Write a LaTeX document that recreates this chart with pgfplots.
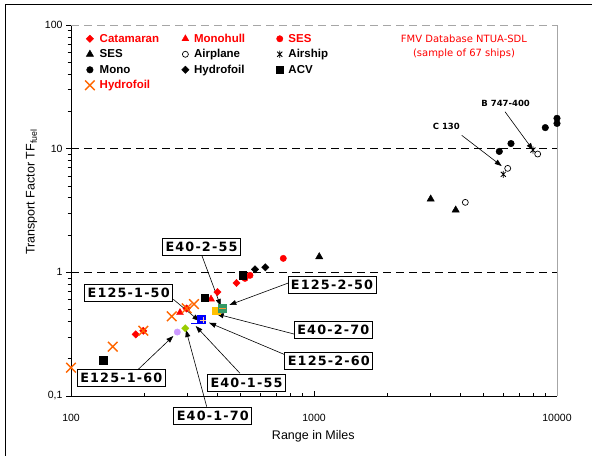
\documentclass[border=0pt]{standalone}
\usepackage{pgfplots}
\pgfplotsset{compat=1.18}
\usepackage{fontspec}
\setmainfont{Liberation Sans}
\newfontfamily\verd{DejaVu Sans}
\newfontfamily\boxfont[LetterSpace=9]{DejaVu Sans}
\usetikzlibrary{arrows.meta}

\definecolor{xlred}{RGB}{255,0,0}
\definecolor{xlorange}{RGB}{255,102,0}
\definecolor{xlblue}{RGB}{0,0,255}
\definecolor{xlyellow}{RGB}{255,192,0}
\definecolor{xlgreen}{RGB}{51,153,102}
\definecolor{xlviolet}{RGB}{204,153,255}
\definecolor{xllime}{RGB}{153,204,0}
\definecolor{xlpeach}{RGB}{255,204,153}
\definecolor{xlamber}{RGB}{255,153,51}

% star marker: a cross with a vertical bar
\pgfdeclareplotmark{xbar}{%
  \pgfpathmoveto{\pgfqpointpolar{45}{\pgfplotmarksize}}\pgfpathlineto{\pgfqpointpolar{225}{\pgfplotmarksize}}%
  \pgfpathmoveto{\pgfqpointpolar{135}{\pgfplotmarksize}}\pgfpathlineto{\pgfqpointpolar{315}{\pgfplotmarksize}}%
  \pgfpathmoveto{\pgfqpoint{0pt}{\pgfplotmarksize}}\pgfpathlineto{\pgfqpoint{0pt}{-\pgfplotmarksize}}%
  \pgfusepathqstroke}

\pgfplotsset{
  pt/.style={only marks, legend image code/.code={\draw[##1] plot coordinates {(0pt,0pt)};}},
}
\tikzset{
  lbl/.style={draw=black, fill=white, line width=0.8pt, inner xsep=3pt, inner ysep=0pt,
    minimum height=17pt, font=\boxfont\bfseries\fontsize{12.8}{14}\selectfont},
  arr/.style={-{Triangle[length=7pt,width=5pt]}, line width=0.6pt, black},
}
\newcommand{\lt}[2]{\textcolor{#1}{\makebox[82pt][l]{#2}}}

\begin{document}
\begin{tikzpicture}
\begin{axis}[
  xmode=log, ymode=log,
  scale only axis, width=486pt, height=371pt,
  xmin=100, xmax=10000, ymin=0.1, ymax=100,
  clip=false,
  axis line style={draw=none},
  xtick pos=lower, ytick pos=left,
  ymajorgrids,
  major grid style={black, dash pattern=on 8pt off 5pt, line width=0.6pt},
  xtick={100,1000,10000}, xticklabels={100,1000,10000},
  ytick={0.1,1,10,100}, yticklabels={{0,1},1,10,100},
  minor xtick={200,300,400,500,600,700,800,900,2000,3000,4000,5000,6000,7000,8000,9000},
  minor ytick={0.2,0.3,0.4,0.5,0.6,0.7,0.8,0.9,2,3,4,5,6,7,8,9,20,30,40,50,60,70,80,90},
  /pgf/number format/assume math mode=true,
  tick label style={font=\fontsize{10.5}{12}\selectfont},
  tick align=outside,
  major tick length=5pt, minor tick length=3.5pt,
  every major x tick/.append style={yshift=5pt},
  every minor x tick/.append style={yshift=3.5pt},
  every tick/.append style={black, line width=0.8pt},
  xticklabel style={yshift=-10pt},
  legend style={at={(rel axis cs:0.029,0.977)}, anchor=north west,
    draw=none, fill=none, inner sep=0pt, outer sep=0pt,
    font=\fontsize{11.5}{13}\selectfont\bfseries,
    nodes={inner sep=0pt, text height=8.5pt, text depth=2pt},
    /tikz/every odd column/.style={column sep=5pt},
    /tikz/every even column/.style={column sep=0pt},
    row sep=5pt},
  legend columns=3,
  legend cell align=left,
]
% Catamaran
\addplot[pt, mark=square*, mark size=2.6pt, mark options={rotate=45, fill=xlred, draw=xlred}, color=xlred]
  coordinates {(184.6,0.315) (198.4,0.337) (299,0.51) (400.7,0.693) (479.8,0.82)};
\addlegendentry{\lt{xlred}{Catamaran}}
% Monohull
\addplot[pt, mark=triangle*, mark size=4pt, color=xlred, mark options={fill=xlred}]
  coordinates {(280.9,0.473) (376.9,0.608)};
\addlegendentry{\lt{xlred}{Monohull}}
% SES (red)
\addplot[pt, mark=*, mark size=3.2pt, color=xlred, mark options={fill=xlred}]
  coordinates {(520,0.894) (545.3,0.946) (747.6,1.297)};
\addlegendentry{\lt{xlred}{SES}}
% SES (black)
\addplot[pt, mark=triangle*, mark size=4.2pt, color=black, mark options={fill=black}]
  coordinates {(1051,1.337) (3021,3.914) (3829,3.19)};
\addlegendentry{\lt{black}{SES}}
% Airplane
\addplot[pt, mark=o, mark size=3pt, color=black, mark options={fill=white, line width=0.7pt}]
  coordinates {(4195,3.68) (6268,6.93) (8328,9.05)};
\addlegendentry{\lt{black}{Airplane}}
% Airship
\addplot[pt, mark=xbar, mark size=3.6pt, color=black, mark options={line width=0.8pt}]
  coordinates {(6012,6.2) (7963,9.74)};
\addlegendentry{\lt{black}{Airship}}
% Mono
\addplot[pt, mark=*, mark size=3.3pt, color=black, mark options={fill=black}]
  coordinates {(5788,9.5) (6467,11.0) (8950,14.8) (10000,17.6) (10000,16.0)};
\addlegendentry{\lt{black}{Mono}}
% Hydrofoil (black)
\addplot[pt, mark=square*, mark size=2.6pt, mark options={rotate=45, fill=black}, color=black]
  coordinates {(571.7,1.058) (630.4,1.098)};
\addlegendentry{\lt{black}{Hydrofoil}}
% ACV
\addplot[pt, mark=square*, mark size=3.7pt, color=black, mark options={fill=black}]
  coordinates {(135.8,0.1954) (355.9,0.626) (508.8,0.951)};
\addlegendentry{\lt{black}{ACV}}
% Hydrofoil (orange)
\addplot[pt, mark=x, mark size=6.8pt, color=xlorange, mark options={line width=1.4pt}]
  coordinates {(100,0.1694) (148.5,0.2504) (198.4,0.337) (259.7,0.441) (299.3,0.512) (320.8,0.554)};
\addlegendentry{\lt{xlred}{Hydrofoil}}

% design variants
\addplot[forget plot, only marks, mark=-, mark size=3.5pt, color=xlblue, mark options={line width=1.6pt}]
  coordinates {(323.7,0.387)};
\addplot[forget plot, only marks, mark=square*, mark size=4pt, color=xlblue, mark options={fill=xlblue}]
  coordinates {(341.8,0.4155)};
\addplot[forget plot, only marks, mark=+, mark size=3pt, color=xlpeach, mark options={line width=0.8pt}]
  coordinates {(350.3,0.4116)};
\addplot[forget plot, only marks, mark=square*, mark size=3.7pt, color=xlyellow, mark options={fill=xlyellow}]
  coordinates {(395.2,0.489)};
\addplot[forget plot, only marks, mark=square*, mark size=3.8pt, color=xlgreen, mark options={fill=xlgreen}]
  coordinates {(419.5,0.513)};
\addplot[forget plot, only marks, mark=-, mark size=3.5pt, color=xlamber, mark options={line width=1.2pt}]
  coordinates {(419.5,0.51)};
\addplot[forget plot, only marks, mark=*, mark size=3.2pt, color=xlviolet, mark options={fill=xlviolet}]
  coordinates {(273.8,0.329)};
\addplot[forget plot, only marks, mark=square*, mark size=2.6pt, mark options={rotate=45, fill=xllime}, color=xllime]
  coordinates {(295.3,0.353)};

% plot area border: left and bottom axis lines, gray top and right
\draw[black, line width=0.8pt] (rel axis cs:0,1) -- (rel axis cs:0,0) -- (rel axis cs:1,0);
\draw[gray!70, line width=1pt, dash pattern=on 8pt off 5pt] (rel axis cs:0,1) -- (rel axis cs:1,1);
\draw[gray!70, line width=0.8pt] (rel axis cs:1,0) -- (rel axis cs:1,1);

% axis titles
\node[rotate=90, font=\fontsize{12.5}{14}\selectfont] at (rel axis cs:-0.081,0.55) {Transport Factor TF\textsubscript{fuel}};
\node[font=\fontsize{12.5}{14}\selectfont] at (rel axis cs:0.4986,-0.1097) {Range in Miles};

% database note
\node[align=center, text=xlred, font=\verd\fontsize{10}{14}\selectfont] at (rel axis cs:0.8086,0.9407)
  {FMV Database NTUA-SDL\\(sample of 67 ships)};

% aircraft callouts
\draw[arr] (rel axis cs:0.8039,0.7027) -- (rel axis cs:0.8862,0.6199);
\draw[arr] (rel axis cs:0.893,0.7663) -- (rel axis cs:0.9506,0.6631);
\node[font=\verd\bfseries\fontsize{8.5}{10}\selectfont] at (rel axis cs:0.7722,0.7259) {C 130};
\node[font=\verd\bfseries\fontsize{8.5}{10}\selectfont] at (rel axis cs:0.8944,0.789) {B 747-400};

% design callouts
\draw[arr] (rel axis cs:0.2689,0.380) -- (rel axis cs:0.308,0.2426);
\draw[arr] (rel axis cs:0.4527,0.3073) -- (rel axis cs:0.3257,0.2453);
\draw[arr] (rel axis cs:0.4588,0.1671) -- (rel axis cs:0.2998,0.221);
\draw[arr] (rel axis cs:0.4383,0.1124) -- (rel axis cs:0.284,0.1976);
\draw[arr] (rel axis cs:0.3477,0.0612) -- (rel axis cs:0.2566,0.1887);
\draw[arr] (rel axis cs:0.2792,-0.0288) -- (rel axis cs:0.2366,0.1779);
\draw[arr] (rel axis cs:0.1385,0.072) -- (rel axis cs:0.2105,0.1617);
\draw[arr] (rel axis cs:0.2105,0.2606) -- (rel axis cs:0.264,0.2022);

\node[lbl] at (rel axis cs:0.2685,0.403) {E40-2-55};
\node[lbl] at (rel axis cs:0.537,0.3005) {E125-2-50};
\node[lbl] at (rel axis cs:0.5397,0.1787) {E40-2-70};
\node[lbl] at (rel axis cs:0.5305,0.0949) {E125-2-60};
\node[lbl] at (rel axis cs:0.3611,0.0358) {E40-1-55};
\node[lbl] at (rel axis cs:0.2918,-0.0534) {E40-1-70};
\node[lbl] at (rel axis cs:0.1035,0.0477) {E125-1-60};
\node[lbl] at (rel axis cs:0.1187,0.2776) {E125-1-50};

\coordinate (FBL) at (rel axis cs:-0.1358,-0.1617);
\coordinate (FTL) at (rel axis cs:-0.1358,1.0566);
\coordinate (FTR) at (rel axis cs:1.072,1.0566);
\coordinate (PBL) at (rel axis cs:-0.1461,-0.1725);
\coordinate (PTR) at (rel axis cs:1.0782,1.0674);
\end{axis}
\draw[black, line width=0.6pt] (FBL) -- (FTL) -- (FTR);
\pgfresetboundingbox
\path[use as bounding box] (PBL) rectangle (PTR);
\end{tikzpicture}
\end{document}
